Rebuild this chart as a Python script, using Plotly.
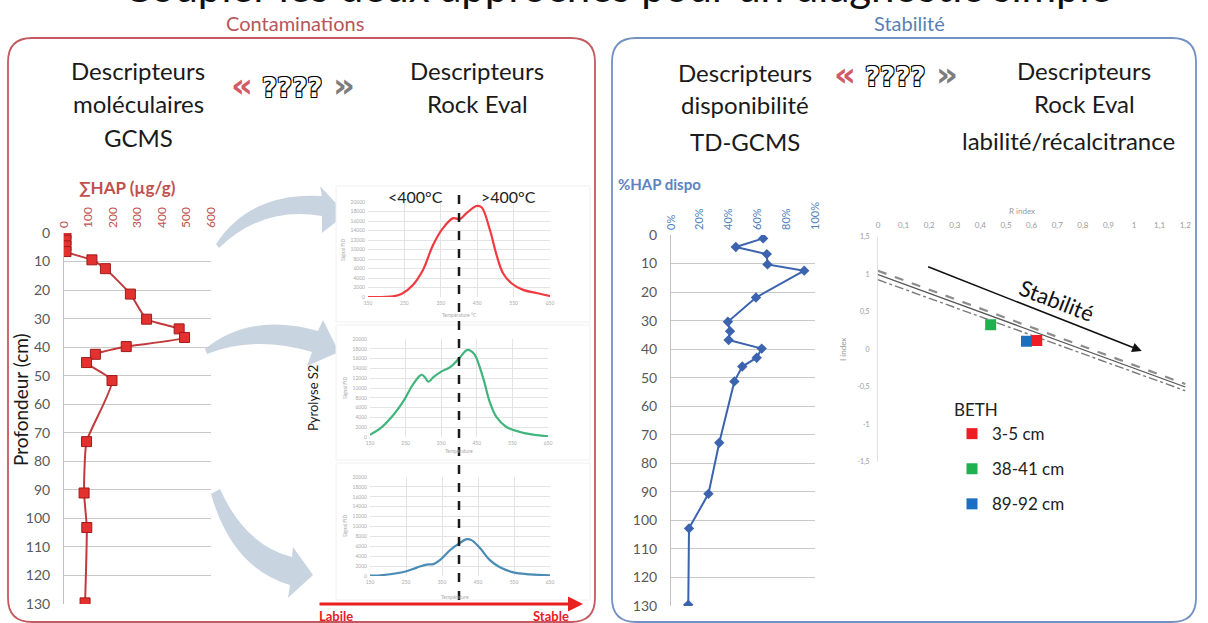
import plotly.graph_objects as go

W, H = 1208, 623


def px(x):
    return x / W


def py(y):
    return 1 - y / H


# ---------------- data ----------------
# Sum of PAHs along the core
hap_depth = [0.5, 2.5, 4.5, 6.5, 9.4, 12.5, 21.4, 30.2, 33.6, 36.6, 39.8, 42.5, 45.4, 51.7, 73.1, 91.1, 103.2, 129.6]
hap_total = [8, 8, 8, 8, 114, 169, 271, 337, 470, 492, 254, 128, 92, 196, 92, 82, 93, 86]
hap_ticks = [0, 100, 200, 300, 400, 500, 600]
depth_ticks = [0, 10, 20, 30, 40, 50, 60, 70, 80, 90, 100, 110, 120, 130]

# Available PAH fraction (TD-GCMS)
dispo_depth = [1.2, 4.2, 6.7, 10.3, 12.5, 21.9, 30.4, 33.7, 36.8, 39.8, 43.0, 46.1, 51.3, 72.8, 90.7, 102.8, 129.6]
dispo_frac = [0.64, 0.45, 0.665, 0.67, 0.925, 0.59, 0.395, 0.41, 0.40, 0.63, 0.595, 0.495, 0.44, 0.335, 0.26, 0.125, 0.12]
frac_ticks = [0, 0.2, 0.4, 0.6, 0.8, 1.0]

# Rock-Eval S2 pyrograms (temperature in degC, FID signal)
t_top = [150, 219, 242, 274, 301, 329, 356, 384, 402, 420, 448, 462, 485, 503, 521, 544, 576, 613, 650]
s_top = [0, 140, 630, 2600, 5700, 11000, 14500, 16600, 16400, 17600, 19150, 18900, 14100, 8900, 5000, 2900, 1500, 840, 200]
t_mid = [150, 178, 215, 243, 267, 286, 295, 304, 314, 328, 351, 374, 402, 421, 430, 444, 468, 486, 505, 533, 571, 608, 650]
s_mid = [480, 1700, 4450, 7200, 10300, 12200, 12700, 12200, 11300, 12200, 13400, 14200, 16200, 17700, 17700, 16800,
         12000, 7200, 4100, 2050, 1030, 480, 140]
t_low = [150, 187, 243, 280, 307, 326, 344, 372, 400, 419, 432, 456, 483, 511, 548, 594, 650]
s_low = [70, 200, 800, 1700, 2300, 2400, 3200, 5200, 6700, 7450, 7250, 5600, 3200, 1750, 740, 340, 130]
temp_ticks = [150, 250, 350, 450, 550, 650]
signal_ticks = [0, 2000, 4000, 6000, 8000, 10000, 12000, 14000, 16000, 18000, 20000]
split_temp = 400

# R index / I index diagram
sample_names = ["3-5 cm", "38-41 cm", "89-92 cm"]
r_index = [0.62, 0.44, 0.58]
i_index = [0.12, 0.33, 0.11]
sample_colors = ["#ee1c25", "#1fb04f", "#1b6fc2"]
ref_r = [0.0, 1.2]
ref_upper = [1.05, -0.46]
ref_mid = [1.0, -0.50]
ref_lower = [0.93, -0.55]
stab_from = (0.19, 1.11)
stab_to = (1.03, -0.02)
r_ticks = [0, 0.1, 0.2, 0.3, 0.4, 0.5, 0.6, 0.7, 0.8, 0.9, 1.0, 1.1, 1.2]
r_tick_text = ["0", "0,1", "0,2", "0,3", "0,4", "0,5", "0,6", "0,7", "0,8", "0,9", "1", "1,1", "1,2"]
i_ticks = [-1.5, -1, -0.5, 0, 0.5, 1, 1.5]
i_tick_text = ["-1,5", "-1", "-0,5", "0", "0,5", "1", "1,5"]

FONT = "Lato"
RED = "#c0504d"
BLUE = "#4f81bd"

fig = go.Figure()

# ---------------- traces ----------------
fig.add_trace(go.Scatter(
    x=hap_total, y=hap_depth, xaxis="x", yaxis="y", mode="lines+markers",
    line=dict(color="#c23a3c", width=2, shape="spline", smoothing=0.5),
    marker=dict(symbol="square", size=10, color="#e2312f", line=dict(color="#a01b1b", width=1)),
    showlegend=False, hoverinfo="skip"))

for t, s, col, n in [(t_top, s_top, "#ef3a40", 2), (t_mid, s_mid, "#3fb57b", 3), (t_low, s_low, "#4a8bb6", 4)]:
    fig.add_trace(go.Scatter(
        x=t, y=s, xaxis=f"x{n}", yaxis=f"y{n}", mode="lines",
        line=dict(color=col, width=2.2, shape="spline", smoothing=1.0),
        showlegend=False, hoverinfo="skip"))

fig.add_trace(go.Scatter(
    x=dispo_frac, y=dispo_depth, xaxis="x5", yaxis="y5", mode="lines+markers",
    line=dict(color="#3b63ae", width=2),
    marker=dict(symbol="diamond", size=8, color="#3b63ae"),
    showlegend=False, hoverinfo="skip"))

for ys, dash, width, col in [(ref_upper, "dash", 2.2, "#8c8c8c"), (ref_mid, "solid", 1.2, "#555555"),
                             (ref_lower, "dashdot", 1.4, "#7a7a7a")]:
    fig.add_trace(go.Scatter(
        x=ref_r, y=ys, xaxis="x6", yaxis="y6", mode="lines",
        line=dict(color=col, width=width, dash=dash), showlegend=False, hoverinfo="skip"))

for k in reversed(range(len(sample_names))):
    fig.add_trace(go.Scatter(
        x=[r_index[k]], y=[i_index[k]], xaxis="x6", yaxis="y6", mode="markers",
        marker=dict(symbol="square", size=11, color=sample_colors[k]),
        name=sample_names[k], legendgroup=sample_names[k], legendrank=k + 1, hoverinfo="skip"))

# ---------------- axes ----------------
depth_axis = dict(range=[130, 0], tickvals=depth_ticks, showgrid=True, gridcolor="#c9c9c9", gridwidth=1,
                  showline=True, linecolor="#c0c0c0", linewidth=1, zeroline=False, ticks="", automargin=False,
                  tickfont=dict(family=FONT, size=14, color="#595959"), ticklabelstandoff=10)

mini_x = dict(range=[150, 650], tickvals=temp_ticks, showgrid=True, gridcolor="#e4e4e4", zeroline=False,
              showline=False, ticks="", automargin=False, tickformat="d",
              tickfont=dict(family=FONT, size=5, color="#aaaaaa"), ticklabelstandoff=2)
mini_y = dict(range=[0, 20000], tickvals=signal_ticks, showgrid=True, gridcolor="#e4e4e4", zeroline=False,
              showline=False, ticks="", automargin=False, tickformat="d",
              tickfont=dict(family=FONT, size=5, color="#aaaaaa"), ticklabelstandoff=2)

layout_axes = dict(
    xaxis=dict(domain=[px(64), px(211)], range=[0, 600], side="top", anchor="y", tickvals=hap_ticks,
               tickangle=-90, showgrid=False, zeroline=False, showline=False, ticks="", automargin=False,
               tickfont=dict(family=FONT, size=12, color=RED), ticklabelstandoff=4),
    yaxis=dict(domain=[py(604), py(233)], anchor="x", **depth_axis),
    xaxis2=dict(domain=[px(368), px(550)], anchor="y2", **mini_x),
    yaxis2=dict(domain=[py(297), py(202)], anchor="x2", **mini_y),
    xaxis3=dict(domain=[px(370), px(548)], anchor="y3", **mini_x),
    yaxis3=dict(domain=[py(437), py(339)], anchor="x3", **mini_y),
    xaxis4=dict(domain=[px(370), px(550)], anchor="y4", **mini_x),
    yaxis4=dict(domain=[py(576), py(477)], anchor="x4", **mini_y),
    xaxis5=dict(domain=[px(671), px(815)], range=[0, 1], side="top", anchor="y5", tickvals=frac_ticks,
                tickformat=".0%", tickangle=-90, showgrid=False, zeroline=False, showline=False, ticks="",
                automargin=False, tickfont=dict(family=FONT, size=11, color=BLUE), ticklabelstandoff=4),
    yaxis5=dict(domain=[py(606), py(235)], anchor="x5", **depth_axis),
    xaxis6=dict(domain=[px(878), px(1195)], range=[0, 1.238], side="top", anchor="y6", tickvals=r_ticks,
                ticktext=r_tick_text, showgrid=False, zeroline=False, showline=False, ticks="", automargin=False,
                tickfont=dict(family=FONT, size=8, color="#9a9a9a"), ticklabelstandoff=6),
    yaxis6=dict(domain=[py(462), py(237)], range=[-1.5, 1.5], anchor="x6", tickvals=i_ticks,
                ticktext=i_tick_text, showgrid=False, zeroline=False, showline=True, linecolor="#e2e2e2",
                ticks="", automargin=False, tickfont=dict(family=FONT, size=7, color="#9a9a9a"),
                ticklabelstandoff=6),
)


# ---------------- shapes ----------------
def to_path(cmds):
    out = []
    for c in cmds:
        if c == "Z":
            out.append("Z")
            continue
        op, pts = c[0], c[1:]
        out.append(op + " ".join(f"{px(x):.5f},{py(y):.5f}" for x, y in pts))
    return " ".join(out)


def rounded_box(x0, y0, x1, y1, r):
    return to_path([
        ("M", (x0 + r, y0)), ("L", (x1 - r, y0)), ("Q", (x1, y0), (x1, y0 + r)),
        ("L", (x1, y1 - r)), ("Q", (x1, y1), (x1 - r, y1)), ("L", (x0 + r, y1)),
        ("Q", (x0, y1), (x0, y1 - r)), ("L", (x0, y0 + r)), ("Q", (x0, y0), (x0 + r, y0)), "Z"])


shapes = [
    dict(type="path", xref="paper", yref="paper", path=rounded_box(8, 38, 595, 622, 24),
         line=dict(color="#c45a5f", width=1.8), fillcolor="rgba(0,0,0,0)", layer="below"),
    dict(type="path", xref="paper", yref="paper", path=rounded_box(612, 38, 1196, 622, 24),
         line=dict(color="#7391c2", width=1.8), fillcolor="rgba(0,0,0,0)", layer="below"),
]

arrow_fill = "rgba(192,204,220,0.85)"
arrows = [
    [("M", (216, 244)), ("Q", (250, 192), (322, 196)), ("L", (320, 186)), ("L", (346, 214)), ("L", (322, 233)),
     ("L", (322, 216)), ("Q", (262, 206), (219, 248)), "Z"],
    [("M", (205, 349)), ("Q", (250, 312), (318, 331)), ("L", (323, 320)), ("L", (339, 352)), ("L", (307, 366)),
     ("L", (312, 352)), ("Q", (255, 335), (207, 354)), "Z"],
    [("M", (220, 489)), ("Q", (245, 545), (292, 557)), ("L", (293, 547)), ("L", (313, 575)), ("L", (288, 598)),
     ("L", (290, 585)), ("Q", (232, 568), (211, 494)), "Z"],
]
for a in arrows:
    shapes.append(dict(type="path", xref="paper", yref="paper", path=to_path(a), line=dict(width=0),
                       fillcolor=arrow_fill, layer="below"))

for (x0, y0, x1, y1) in [(336, 186, 590, 322), (336, 325, 590, 460), (336, 463, 590, 600)]:
    shapes.append(dict(type="rect", xref="paper", yref="paper", x0=px(x0), x1=px(x1), y0=py(y1), y1=py(y0),
                       line=dict(color="#f0f0f0", width=1), fillcolor="white", layer="below"))

shapes.append(dict(type="line", xref="x2", yref="paper", x0=split_temp, x1=split_temp, y0=py(600), y1=py(187),
                   line=dict(color="#1a1a1a", width=2.5, dash="dash"), layer="above"))

# ---------------- annotations ----------------
annotations = []


def label(text, x, y, size, color="#1a1a1a", family=FONT, angle=0, **kw):
    annotations.append(dict(text=text, x=px(x), y=py(y), xref="paper", yref="paper", showarrow=False,
                            xanchor="center", yanchor="middle", textangle=angle,
                            font=dict(family=family, size=size, color=color), **kw))


label("Coupler les deux approches pour un diagnostic simple", 617, -14, 42, color="#111111")
label("Contaminations", 295, 23, 20, color="#b8545a")
label("Stabilité", 909, 23, 20, color="#5b7fb5")

for txt, y in [("Descripteurs", 70), ("moléculaires", 103), ("GCMS", 137)]:
    label(txt, 138, y, 24)
for txt, y in [("Descripteurs", 70), ("Rock Eval", 103)]:
    label(txt, 477, y, 24)
for txt, y in [("Descripteurs", 72), ("disponibilité", 105), ("TD-GCMS", 141)]:
    label(txt, 745, y, 24)
for txt, y in [("Descripteurs", 70), ("Rock Eval", 104), ("labilité/récalcitrance", 140)]:
    label(txt, 1084 if txt != "labilité/récalcitrance" else 1068, y, 24)

outline = "1px 1px 0 #000, -1px -1px 0 #000, 1px -1px 0 #000, -1px 1px 0 #000"
for cx, cy in [(292, 88), (895, 77)]:
    label("<b>«</b>", cx - 50, cy - 3, 34, color="#cf5c66", family="DejaVu Sans")
    label("<b>»</b>", cx + 52, cy - 3, 34, color="#7d7d7d", family="DejaVu Sans")
    annotations.append(dict(text="<b>????</b>", x=px(cx), y=py(cy), xref="paper", yref="paper", showarrow=False,
                            xanchor="center", yanchor="middle",
                            font=dict(family="DejaVu Sans", size=26, color="white", shadow=outline)))

label("<b>∑HAP (µg/g)</b>", 127, 188, 17, color=RED)
label("Profondeur (cm)", 20, 400, 19, angle=-90)
label("<b>%HAP dispo</b>", 659, 184, 15, color="#5b83c0")
label("Pyrolyse S2", 313, 398, 13, angle=-90)
label("&lt;400°C", 415, 196, 16, color="#222222")
label("&gt;400°C", 508, 196, 16, color="#222222")

for x, y in [(343, 250), (345, 388), (345, 526)]:
    label("Signal FID", x, y, 5, color="#aaaaaa", angle=-90)
label("Température °C", 459, 315, 5, color="#aaaaaa")
label("Température", 459, 451, 5, color="#aaaaaa")
label("Température", 455, 597, 5, color="#aaaaaa")

annotations.append(dict(x=px(583), y=py(604), xref="paper", yref="paper", ax=-265, ay=0, text="",
                        showarrow=True, arrowhead=2, arrowsize=1, arrowwidth=3, arrowcolor="#e8201f"))
label("<b>Labile</b>", 336, 616, 13, color="#e8201f")
label("<b>Stable</b>", 551, 616, 13, color="#e8201f")

label("R index", 1022, 211, 8, color="#9a9a9a")
label("I index", 843, 350, 8, color="#9a9a9a", angle=-90)

annotations.append(dict(x=stab_to[0], y=stab_to[1], ax=stab_from[0], ay=stab_from[1], xref="x6", yref="y6",
                        axref="x6", ayref="y6", text="", showarrow=True, arrowhead=2, arrowsize=1.2,
                        arrowwidth=1.6, arrowcolor="#111111"))
annotations.append(dict(text="Stabilité", x=0.70, y=0.66, xref="x6", yref="y6", showarrow=False, textangle=21,
                        xanchor="center", yanchor="middle",
                        font=dict(family=FONT, size=22, color="#111111")))

fig.update_layout(
    width=W, height=H, margin=dict(l=0, r=0, t=0, b=0, autoexpand=False),
    paper_bgcolor="white", plot_bgcolor="white",
    shapes=shapes, annotations=annotations,
    showlegend=True,
    legend=dict(x=px(952), y=py(394), xanchor="left", yanchor="top", title=dict(text="BETH", font=dict(size=17)),
                font=dict(family=FONT, size=17, color="#222222"), bgcolor="rgba(0,0,0,0)",
                tracegroupgap=10, itemclick=False),
    **layout_axes,
)

# the page body carries no margin so the figure fills the window exactly
fig.write_html("out.html", post_script="document.body.style.margin='0';document.body.style.overflow='hidden';")
